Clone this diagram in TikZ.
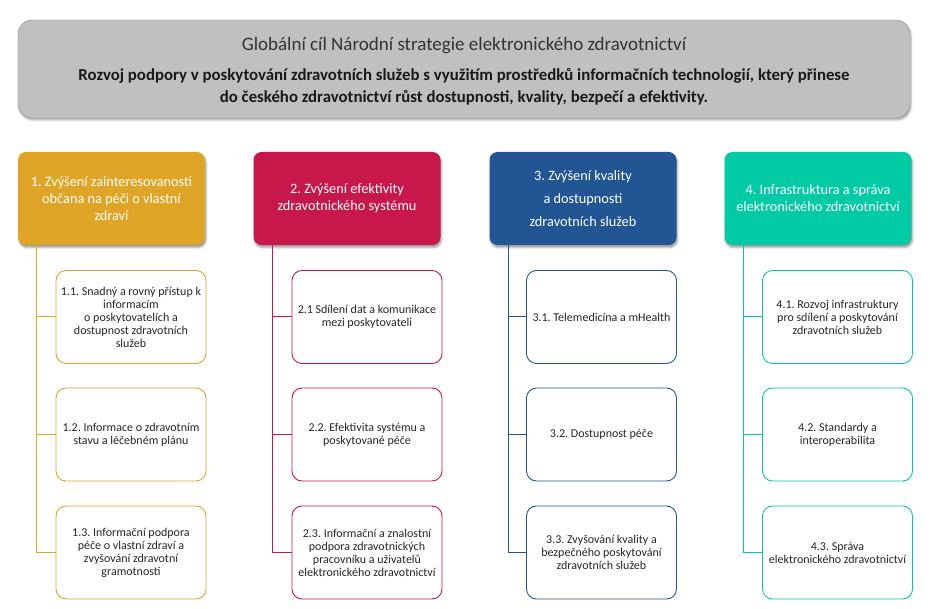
\documentclass[tikz,border=0pt]{standalone}
\usepackage{fontspec}
\setmainfont{Carlito}
\usetikzlibrary{shadows.blur, positioning}
\frenchspacing

\definecolor{goalgray}{HTML}{C0C0C0}
\definecolor{colA}{HTML}{E0A526}
\definecolor{colB}{HTML}{C8174A}
\definecolor{colC}{HTML}{215594}
\definecolor{colD}{HTML}{00CBA4}

\begin{document}
\begin{tikzpicture}[x=1pt, y=-1pt,
    goal/.style={draw=black!45, fill=goalgray, rounded corners=14pt, minimum width=892pt, minimum height=98pt,
        blur shadow={shadow xshift=1pt, shadow yshift=-2pt, shadow blur radius=2pt, shadow opacity=35}},
    pillar/.style={rounded corners=8pt, minimum width=187pt, minimum height=93pt, align=center,
        text=white, font=\fontsize{14.3}{17}\selectfont,
        blur shadow={shadow xshift=1pt, shadow yshift=-2.5pt, shadow blur radius=2pt, shadow opacity=40}},
    measure/.style={draw, line width=0.9pt, fill=white, rounded corners=10pt, minimum width=150pt, minimum height=93pt,
        align=center, text=black!85, font=\fontsize{12}{13}\selectfont},
    link/.style={line width=1pt}
]
\useasboundingbox (0,0) rectangle (930,609);

% Global goal
\node[goal] (goal) at (464,69) {};
\node[text=black!80, font=\fontsize{19}{22}\selectfont] (gtitle) at (464,46) {Globální cíl Národní strategie elektronického zdravotnictví};
\node[align=center, text=black!90, font=\bfseries\fontsize{16.8}{22}\selectfont] (gtext) at (464,87)
    {Rozvoj podpory v poskytování zdravotních služeb s využitím prostředků informačních technologií, který přinese\\
     do českého zdravotnictví růst dostupnosti, kvality, bezpečí a efektivity.};

% Pillars
\node[pillar, fill=colA] (p1) at (111.5,198.5) {1. Zvýšení zainteresovanosti\\ občana na péči o vlastní\\ zdraví};
\node[pillar, fill=colB] (p2) at (347,198.5) {2. Zvýšení efektivity\\ zdravotnického systému};
\node[pillar, fill=colC, font=\fontsize{14.3}{23}\selectfont] (p3) at (583,198.5) {3. Zvýšení kvality\\ a dostupnosti\\ zdravotních služeb};
\node[pillar, fill=colD] (p4) at (818,198.5) {4. Infrastruktura a správa\\ elektronického zdravotnictví};

% Measures
\node[measure, draw=colA] (m11) at (131,317) {1.1. Snadný a rovný přístup k\\ informacím\\ o poskytovatelích a\\ dostupnost zdravotních\\ služeb};
\node[measure, draw=colA] (m12) at (131,434.5) {1.2. Informace o zdravotním\\ stavu a léčebném plánu};
\node[measure, draw=colA] (m13) at (131,552.5) {1.3. Informační podpora\\ péče o vlastní zdraví a\\ zvyšování zdravotní\\ gramotnosti};

\node[measure, draw=colB] (m21) at (367,317) {2.1 Sdílení dat a komunikace\\ mezi poskytovateli};
\node[measure, draw=colB] (m22) at (367,434.5) {2.2. Efektivita systému a\\ poskytované péče};
\node[measure, draw=colB] (m23) at (367,552.5) {2.3. Informační a znalostní\\ podpora zdravotnických\\ pracovníku a uživatelů\\ elektronického zdravotnictví};

\node[measure, draw=colC] (m31) at (601.5,317) {3.1. Telemedicína a mHealth};
\node[measure, draw=colC] (m32) at (601.5,434.5) {3.2. Dostupnost péče};
\node[measure, draw=colC] (m33) at (601.5,552.5) {3.3. Zvyšování kvality a\\ bezpečného poskytování\\ zdravotních služeb};

\node[measure, draw=colD] (m41) at (837.5,317) {4.1. Rozvoj infrastruktury\\ pro sdílení a poskytování\\ zdravotních služeb};
\node[measure, draw=colD] (m42) at (837.5,434.5) {4.2. Standardy a\\ interoperabilita};
\node[measure, draw=colD] (m43) at (837.5,552.5) {4.3. Správa\\ elektronického zdravotnictví};

% Tree connectors
\foreach \c/\col in {1/colA, 2/colB, 3/colC, 4/colD} {
    \coordinate (t\c) at ([xshift=19pt]p\c.south west);
    \draw[link, \col] (t\c) |- (m\c3.west);
    \draw[link, \col] (t\c |- m\c1.west) -- (m\c1.west);
    \draw[link, \col] (t\c |- m\c2.west) -- (m\c2.west);
}
\end{tikzpicture}
\end{document}
